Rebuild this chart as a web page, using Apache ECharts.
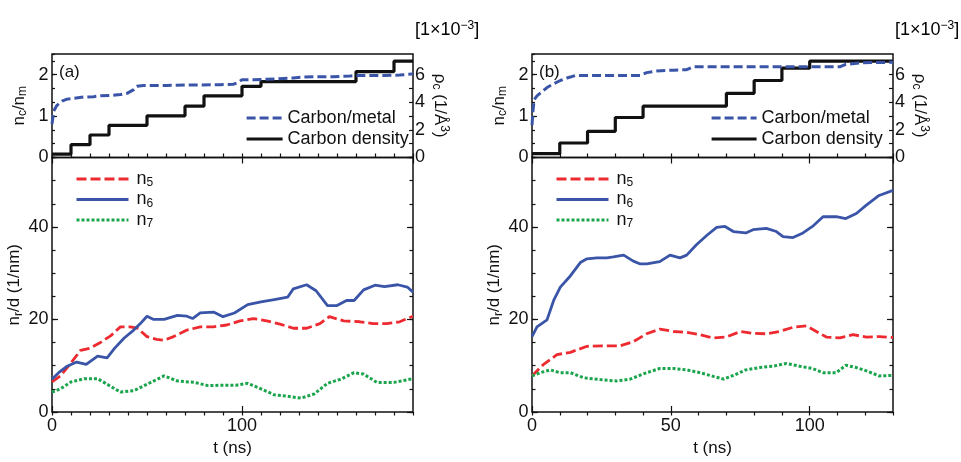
<!DOCTYPE html>
<html><head><meta charset="utf-8">
<script src="https://cdn.jsdelivr.net/npm/echarts@6/dist/echarts.min.js"></script>
<style>html,body{margin:0;padding:0;background:#fff}#c{width:961px;height:462px}</style>
</head><body><div id="c"></div>
<script>
// ---- Panel (a) data ----
const aCmT = [0,0.9,2.6,5.3,7.9,11.4,16.7,21.9,25.4,30.7,36,39.5,43,44.7,48.2,53.5,60.5,71,78,88.6,95.6,98.2,100,106,113,122,127,131,139.5,148,157,160,166,174.6,183,190];
const aCm  = [0.81,1.12,1.26,1.36,1.41,1.43,1.46,1.47,1.49,1.50,1.52,1.55,1.64,1.72,1.74,1.74,1.74,1.75,1.75,1.76,1.77,1.82,1.88,1.88,1.89,1.91,1.92,1.94,1.95,1.95,1.97,1.98,1.98,1.98,1.99,2.02];
const aCdT = [0,10,20,30,50,70,80,100,110,160,180,190];
const aCd  = [0.25,0.93,1.63,2.33,3.02,3.72,4.47,5.16,5.5,6.23,6.98,6.98];
const aN6T = [0,3.5,8,13,18,24,29,33,38,43,46.5,50,53.5,59,66,71,74,78,85,90,96,103,110,117,124,127,134,139,145,150,155,159,164,170,175,182,187,190];
const aN6  = [7.1,8.5,9.9,10.8,10.3,12.1,11.7,13.8,16,17.7,19.1,20.7,20,20,20.9,20.7,20.2,21.4,21.6,20.6,21.4,23.2,23.8,24.3,24.8,26.6,27.5,26.2,23,23,24.1,24.1,26.4,27.4,27.1,27.5,27,25.9];
const aN5T = [0,4.4,10,15,20,25,31,36,41,45,50,55,59,64,71,78,85,92,99,106,113,120,127,134,141,146,153.5,162,169,176,183,190];
const aN5  = [6.5,7.8,10.6,13.3,13.8,14.9,16.5,18.4,18.4,18.1,16.3,15.7,15.5,16.3,17.7,18.4,18.4,18.8,19.7,20.2,19.7,19,18.1,18.1,19.1,20.6,19.7,19.5,19.1,19.1,19.5,20.7];
const aN7T = [0,4.4,10,17,24,29,36,43,50,59,66,75,82,90,97,103,110,117,124,131,138,145,152,159,164,171,180,190];
const aN7  = [4.3,5,6.5,7.2,7.2,6,4.3,4.6,6,7.8,6.7,6.4,5.7,5.8,5.8,6.2,5,3.7,3.4,3,3.9,6.2,7.1,8.5,8.2,6.4,6.4,7.2];
// ---- Panel (b) data ----
const bCmT = [0,0.4,0.8,1.8,3.6,5.4,7.8,10.2,12.6,15.6,19.8,29.3,39,41.3,44.9,50.9,55.7,58,65,77,89,101,110.8,113,119,130];
const bCm  = [0.78,1.16,1.40,1.49,1.59,1.69,1.78,1.86,1.92,1.98,1.98,1.98,1.98,2.05,2.09,2.11,2.12,2.19,2.19,2.19,2.19,2.19,2.19,2.25,2.29,2.30];
const bCdT = [0,10,20,30,40,70,80,90,100,130];
const bCd  = [0.28,1.05,1.9,2.9,3.72,4.65,5.58,6.47,6.98,6.98];
const bN6T = [0,1.8,5.4,7.8,10.2,13.8,17.4,19.8,23.4,27,29.3,33,36.5,39,41.3,46,49.7,53.3,55.7,59.3,63,66.5,69.5,72.5,77,79.6,84.4,88,90.4,94,97.6,101,104.8,109.6,113,116.8,120.4,125,130];
const bN6  = [16.3,18.4,19.9,24.1,27,29.4,32.3,33.1,33.3,33.3,33.5,33.9,32.6,32,32,32.5,33.9,33.3,33.9,36.2,38.2,39.9,40.1,39,38.7,39.4,39.7,39,37.9,37.7,38.7,40.1,42.2,42.2,41.8,42.9,44.7,46.8,47.9];
const bN5T = [0,4.2,9,13.8,19.8,25.7,31.7,36.5,41.3,46,51,55.7,60.5,65.3,70,75,79.6,84.4,89,94,98.8,102.4,106,110.8,115.6,120.4,125,130];
const bN5  = [7.8,10.3,12.4,12.9,14.2,14.3,14.3,15.2,16.9,17.9,17.4,17.2,16.7,16,16.2,17.4,17,16.9,17.4,18.3,18.6,17.4,16.2,16,16.7,16.2,16.3,16.1];
const bN7T = [0,3,6.6,10,13.8,18.6,24.5,30.5,35.3,41.3,46,51,55.7,60.5,65.3,69,72.5,77,82,86.8,91.6,96.4,101,104.8,109.6,113,116.8,120.4,125,130];
const bN7  = [7.8,8.5,9.1,8.5,8.5,7.4,7,6.7,7.1,8.5,9.4,9.4,9.1,8.5,7.7,7.1,7.9,9.1,9.6,9.9,10.5,9.9,9.4,8.5,8.5,10.1,9.6,8.9,7.8,7.9];
// ---- axis settings ----
const tMaxA = 190, tMaxB = 130;
const tMajorA = 100, tMajorB = 50;
const topLeftMax = 2.5, topRightMax = 7.5, botMax = 55;

const zip = (t, v) => t.map((x, i) => [x, v[i]]);
const FONT = 'Liberation Sans, Arial, sans-serif';
const BLUE = '#3a55a8', RED = '#ec2a30', GREEN = '#1aa54c', INK = '#111';
const mkRich = (fs) => ({
  a: {fontSize: fs, fontFamily: FONT, color: INK, lineHeight: 20},
  b: {fontSize: fs, fontFamily: FONT, color: INK, lineHeight: 20, padding: [0, 0, 0, 3]},
  s: {fontSize: 12, fontFamily: FONT, color: INK, lineHeight: 9, verticalAlign: 'bottom'},
  p: {fontSize: 12, fontFamily: FONT, color: INK, lineHeight: 10, verticalAlign: 'top'}
});
const richName = mkRich(17), richLeg = mkRich(18);
const tick = (len, w) => ({show: true, inside: true, length: len, lineStyle: {color: INK, width: w || 1.2}});
const noLine = {show: false};
const lbl = (m, extra) => Object.assign({show: true, fontSize: 18, fontFamily: FONT, color: INK, margin: m, showMaxLabel: false}, extra || {});

const grids = [], xAxes = [], yAxes = [], series = [], legends = [], graphics = [];

function panel(left, tMax, tMajor, d, legLeftTop, legTopW, legLeftBot, tag) {
  const W = 361, TOP = 54, TOPH = 103.5, BOTH = 259.5;
  const gTop = grids.length;
  grids.push({left: left, top: TOP, width: W, height: TOPH, show: true, borderColor: INK, borderWidth: 1.5, backgroundColor: 'transparent'});
  grids.push({left: left, top: TOP + TOPH, width: W, height: BOTH, show: true, borderColor: INK, borderWidth: 1.5, backgroundColor: 'transparent'});
  const gBot = gTop + 1;
  // x axes
  const xTop = xAxes.length;
  xAxes.push({type: 'value', gridIndex: gTop, min: 0, max: tMax, interval: 10, axisLine: noLine, axisTick: tick(4), axisLabel: {show: false}, splitLine: {show: false}});
  xAxes.push({type: 'value', gridIndex: gTop, min: 0, max: tMax, interval: tMajor, axisLine: noLine, axisTick: tick(6), axisLabel: {show: false}, splitLine: {show: false}});
  const xBot = xAxes.length;
  xAxes.push({type: 'value', gridIndex: gBot, min: 0, max: tMax, interval: tMajor, axisLine: noLine, axisTick: tick(6),
    axisLabel: lbl(5), splitLine: {show: false}, name: 't (ns)', nameLocation: 'middle', nameGap: 28,
    nameTextStyle: {fontSize: 17, fontFamily: FONT, color: INK}});
  xAxes.push({type: 'value', gridIndex: gBot, min: 0, max: tMax, interval: 10, axisLine: noLine, axisTick: tick(3.5), axisLabel: {show: false}, splitLine: {show: false}});
  // y axes top
  const yTopL = yAxes.length;
  yAxes.push({type: 'value', gridIndex: gTop, position: 'left', min: 0, max: topLeftMax, interval: 1, axisLine: noLine, axisTick: tick(5),
    axisLabel: lbl(3.5), splitLine: {show: false},
    name: '{a|n}{s|c}{a|/n}{s|m}', nameLocation: 'middle', nameRotate: 90, nameGap: 23, nameTextStyle: {rich: richName}});
  yAxes.push({type: 'value', gridIndex: gTop, position: 'left', min: 0, max: topRightMax, interval: 1, axisLine: noLine, axisTick: tick(3), axisLabel: {show: false}, splitLine: {show: false}});
  const yTopR = yAxes.length;
  yAxes.push({type: 'value', gridIndex: gTop, position: 'right', min: 0, max: topRightMax, interval: 1, axisLine: noLine, axisTick: tick(4),
    axisLabel: lbl(2, {formatter: v => (Math.round(v) % 2 === 0 ? String(Math.round(v)) : '')}), splitLine: {show: false},
    name: '{a|ρ}{s|c}{a| (1/Å}{p|3}{a|)}', nameLocation: 'middle', nameRotate: -90, nameGap: 17, nameTextStyle: {rich: richName}});
  // y axes bottom
  const yBot = yAxes.length;
  yAxes.push({type: 'value', gridIndex: gBot, position: 'left', min: 0, max: botMax, interval: 20, axisLine: noLine, axisTick: tick(6),
    axisLabel: lbl(3.5), splitLine: {show: false},
    name: '{a|n}{s|r}{a|/d (1/nm)}', nameLocation: 'middle', nameRotate: 90, nameGap: 22, nameTextStyle: {rich: richName}});
  yAxes.push({type: 'value', gridIndex: gBot, position: 'left', min: 0, max: botMax, interval: 5, axisLine: noLine, axisTick: tick(3.5), axisLabel: {show: false}, splitLine: {show: false}});
  yAxes.push({type: 'value', gridIndex: gBot, position: 'right', min: 0, max: botMax, interval: 5, axisLine: noLine, axisTick: tick(3.5), axisLabel: {show: false}, splitLine: {show: false}});
  yAxes.push({type: 'value', gridIndex: gBot, position: 'right', min: 0, max: botMax, interval: 20, axisLine: noLine, axisTick: tick(6), axisLabel: {show: false}, splitLine: {show: false}});

  const base = {type: 'line', symbol: 'none', showSymbol: false, animation: false, silent: true};
  series.push(Object.assign({}, base, {name: 'Carbon density', xAxisIndex: xTop, yAxisIndex: yTopR, step: 'end', data: zip(d.cdT, d.cd),
    lineStyle: {color: INK, width: 3.2, type: 'solid'}, itemStyle: {color: INK}, z: 3}));
  series.push(Object.assign({}, base, {name: 'Carbon/metal', xAxisIndex: xTop, yAxisIndex: yTopL, data: zip(d.cmT, d.cm),
    lineStyle: {color: BLUE, width: 3, type: [9, 4]}, itemStyle: {color: BLUE}, z: 4}));
  series.push(Object.assign({}, base, {name: 'n5', xAxisIndex: xBot, yAxisIndex: yBot, data: zip(d.n5T, d.n5),
    lineStyle: {color: RED, width: 2.8, type: [10, 4]}, itemStyle: {color: RED}}));
  series.push(Object.assign({}, base, {name: 'n6', xAxisIndex: xBot, yAxisIndex: yBot, data: zip(d.n6T, d.n6),
    lineStyle: {color: BLUE, width: 2.8, type: 'solid'}, itemStyle: {color: BLUE}}));
  series.push(Object.assign({}, base, {name: 'n7', xAxisIndex: xBot, yAxisIndex: yBot, data: zip(d.n7T, d.n7),
    lineStyle: {color: GREEN, width: 3, type: [3, 2]}, itemStyle: {color: GREEN}}));

  const hideSym = {opacity: 0, borderWidth: 0};
  legends.push({data: ['Carbon/metal', 'Carbon density'], orient: 'vertical', left: legLeftTop, top: 104, itemWidth: legTopW, itemHeight: 14, itemGap: 3,
    selectedMode: false, itemStyle: hideSym, lineStyle: {width: 3.2},
    formatter: n => '{a|' + n + '}', textStyle: {rich: richLeg}});
  legends.push({data: ['n5', 'n6', 'n7'], orient: 'vertical', left: legLeftBot, top: 165, itemWidth: 52, itemHeight: 14, itemGap: 1.5,
    selectedMode: false, itemStyle: hideSym, lineStyle: {width: 3},
    formatter: n => '{b|n}{s|' + n.slice(1) + '}', textStyle: {rich: richLeg}});

  graphics.push({type: 'text', left: left + 7, top: 64, style: {text: tag, font: '17px ' + FONT, fill: INK}});
  graphics.push({type: 'text', left: left + W + 2, top: 20, style: {text: '{a|[1×10}{p|−3}{a|]}', rich: richLeg}});
}

panel(52, tMaxA, tMajorA, {cmT: aCmT, cm: aCm, cdT: aCdT, cd: aCd, n5T: aN5T, n5: aN5, n6T: aN6T, n6: aN6, n7T: aN7T, n7: aN7}, 240, 36, 70, '(a)');
panel(532, tMaxB, tMajorB, {cmT: bCmT, cm: bCm, cdT: bCdT, cd: bCd, n5T: bN5T, n5: bN5, n6T: bN6T, n6: bN6, n7T: bN7T, n7: bN7}, 705, 45, 550, '(b)');

const chart = echarts.init(document.getElementById('c'), null, {renderer: 'canvas'});
chart.setOption({
  animation: false,
  backgroundColor: '#fff',
  grid: grids, xAxis: xAxes, yAxis: yAxes, series: series, legend: legends, graphic: graphics
});
</script></body></html>
